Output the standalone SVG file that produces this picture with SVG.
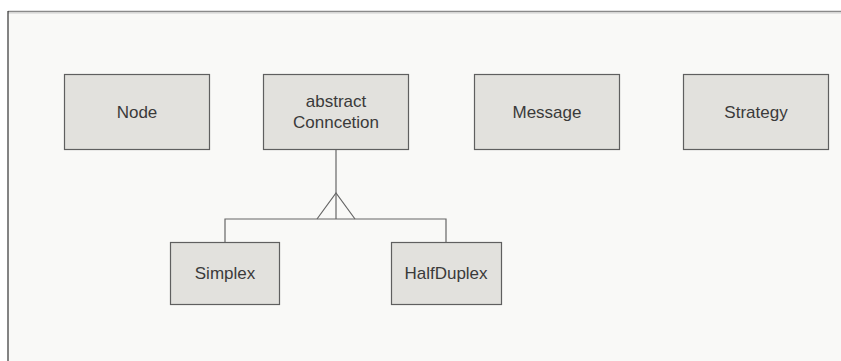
<svg xmlns="http://www.w3.org/2000/svg" width="841" height="361" viewBox="0 0 841 361">
<style>
.box{fill:#e2e1dd;stroke:#5f5f5f;stroke-width:1.2}
.lbl{font-family:"Liberation Sans",Arial,sans-serif;font-size:17px;fill:#3a3a3a;text-anchor:middle}
.ln{stroke:#666;stroke-width:1.2;fill:none}
</style>
<rect x="0" y="0" width="841" height="361" fill="#ffffff"/>
<rect x="8" y="12" width="840" height="360" fill="#f9f9f7"/>
<line x1="8" y1="11.5" x2="841" y2="11.5" stroke="#8a8a8a" stroke-width="1.5"/>
<line x1="8" y1="13" x2="841" y2="13" stroke="#d0d0d0" stroke-width="1"/>
<line x1="8" y1="11" x2="8" y2="361" stroke="#333" stroke-width="1.2"/>
<g id="connectors">
<path class="ln" d="M336,149 V219"/>
<path class="ln" d="M225,242 V219 H446 V242"/>
<path class="ln" d="M317,219 L336,193 L355,219"/>
</g>
<g id="node-node"><rect class="box" x="64.5" y="74.5" width="145" height="75"/><text class="lbl" x="137" y="118">Node</text></g>
<g id="node-connection"><rect class="box" x="263.5" y="74.5" width="145" height="75"/><text class="lbl" x="336" y="107">abstract</text><text class="lbl" x="336" y="128">Conncetion</text></g>
<g id="node-message"><rect class="box" x="474.5" y="74.5" width="145" height="75"/><text class="lbl" x="547" y="118">Message</text></g>
<g id="node-strategy"><rect class="box" x="683.5" y="74.5" width="145" height="75"/><text class="lbl" x="756" y="118">Strategy</text></g>
<g id="node-simplex"><rect class="box" x="170.5" y="242.5" width="109" height="62"/><text class="lbl" x="225" y="279">Simplex</text></g>
<g id="node-halfduplex"><rect class="box" x="391.5" y="242.5" width="110" height="62"/><text class="lbl" x="446" y="279">HalfDuplex</text></g>
</svg>
